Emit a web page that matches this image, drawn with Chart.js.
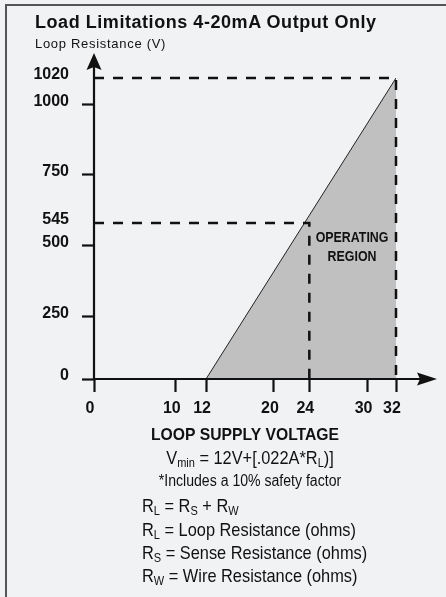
<!DOCTYPE html>
<html lang="en">
<head>
<meta charset="UTF-8" />
<title>Load Limitations 4-20mA Output Only</title>
<script src="https://cdn.jsdelivr.net/npm/chart.js"></script>
<style>
  html, body { margin: 0; padding: 0; }
  body { width: 446px; height: 597px; background: #f1f2f4; position: relative; overflow: hidden; color: #111; }
  .frame { position: absolute; left: 5px; top: 4px; right: 0; bottom: 0; border-top: 2px solid #555; border-left: 2px solid #555; }
  canvas { position: absolute; left: 0; top: 0; }
  .t { position: absolute; white-space: nowrap; line-height: 1; }
  .title { left: 35px; top: 12px; font: bold 18px "Liberation Sans", Arial, sans-serif; letter-spacing: 0.55px; }
  .sub { left: 35px; top: 36px; font: 13px "Liberation Sans", Arial, sans-serif; letter-spacing: 0.7px; }
  /* the notes use a condensed face in the original: squeeze Liberation Sans */
  .note { font-family: "Liberation Sans", Arial, sans-serif; font-size: 18.6px; transform: scaleX(0.88); transform-origin: 0 0; }
  .small { font-size: 16px; }
  .mid { left: 0; width: 500px; text-align: center; transform-origin: 250px 0; }
  .left { left: 142px; }
  sub { font-size: 12.5px; vertical-align: -3px; line-height: 0; }
</style>
</head>
<body>
  <div class="frame"></div>
  <canvas id="loadChart" width="446" height="460"></canvas>

  <div class="t title">Load Limitations 4-20mA Output Only</div>
  <div class="t sub">Loop Resistance (V)</div>

  <div class="t note mid" style="top:449px">V<sub>min</sub> = 12V+[.022A*R<sub>L</sub>)]</div>
  <div class="t note small mid" style="top:473px">*Includes a 10% safety factor</div>
  <div class="t note left" style="top:497px">R<sub>L</sub> = R<sub>S</sub> + R<sub>W</sub></div>
  <div class="t note left" style="top:521px">R<sub>L</sub> = Loop Resistance (ohms)</div>
  <div class="t note left" style="top:544px">R<sub>S</sub> = Sense Resistance (ohms)</div>
  <div class="t note left" style="top:567px">R<sub>W</sub> = Wire Resistance (ohms)</div>

  <script>
    // values
    const supplyTicks = [0, 10, 12, 20, 24, 30, 32];          // loop supply voltage
    const loadTicks = [0, 250, 500, 545, 750, 1000, 1020];    // loop resistance
    const minVolts = 12;
    const maxVolts = 32;
    const maxOhms = 1020;
    const checkVolts = 24;
    const checkOhms = 545;
    const unmarked = [545, 1020];   // labels without a tick mark

    // the original is not drawn to scale: where each tick sits along its axis (0..1)
    const xSpots = [0, 0.271, 0.371, 0.596, 0.713, 0.906, 1];
    const ySpots = [0, 0.207, 0.442, 0.518, 0.678, 0.912, 1];
    const bends = {
      x: { vals: supplyTicks, spots: xSpots },
      y: { vals: loadTicks, spots: ySpots }
    };

    function bend(v, vals, spots) {
      const n = vals.length - 1;
      if (v <= vals[0]) return spots[0];
      for (let i = 1; i <= n; i++) {
        if (v <= vals[i]) {
          const t = (v - vals[i - 1]) / (vals[i] - vals[i - 1]);
          return spots[i - 1] + t * (spots[i] - spots[i - 1]);
        }
      }
      return spots[n] + (v - vals[n]) / (vals[n] - vals[n - 1]) * (spots[n] - spots[n - 1]);
    }

    function unbend(d, vals, spots) {
      const n = spots.length - 1;
      for (let i = 1; i <= n; i++) {
        if (d <= spots[i] || i === n) {
          const t = (d - spots[i - 1]) / (spots[i] - spots[i - 1]);
          return vals[i - 1] + t * (vals[i] - vals[i - 1]);
        }
      }
    }

    // linear scale whose ticks sit where the drawing puts them
    class BentScale extends Chart.LinearScale {
      getPixelForValue(value) {
        const b = bends[this.id];
        return this.getPixelForDecimal(bend(value, b.vals, b.spots));
      }
      getValueForPixel(pixel) {
        const b = bends[this.id];
        return unbend(this.getDecimalForPixel(pixel), b.vals, b.spots);
      }
    }
    BentScale.id = 'bent';
    Chart.register(BentScale);

    const ink = '#111';
    const tickFont = { family: '"Liberation Sans", Arial, sans-serif', size: 16, weight: 'bold' };

    function arrowHead(ctx, tx, ty, dx, dy, len, half, notch) {
      const bx = tx - dx * len, by = ty - dy * len;
      const px = -dy, py = dx;
      ctx.beginPath();
      ctx.moveTo(tx, ty);
      ctx.lineTo(bx + px * half, by + py * half);
      ctx.lineTo(tx - dx * (len - notch), ty - dy * (len - notch));
      ctx.lineTo(bx - px * half, by - py * half);
      ctx.closePath();
      ctx.fill();
    }

    const axesAndLabel = {
      id: 'axesAndLabel',
      afterDatasetsDraw(chart) {
        const { ctx, chartArea: a, scales: { x, y } } = chart;
        const ox = x.getPixelForValue(0);
        const oy = y.getPixelForValue(0);
        ctx.save();
        ctx.strokeStyle = ink;
        ctx.fillStyle = ink;
        ctx.lineWidth = 2.2;
        ctx.beginPath();
        ctx.moveTo(ox, oy);
        ctx.lineTo(ox, a.top - 12);
        ctx.moveTo(ox, oy);
        ctx.lineTo(a.right + 25, oy);
        ctx.stroke();
        arrowHead(ctx, ox, a.top - 25, 0, -1, 17, 7.5, 3);
        arrowHead(ctx, a.right + 41, oy, 1, 0, 20, 6.5, 3);

        // label inside the shaded area, condensed like the original
        const cx = x.getPixelForValue(28.4);
        const cy = y.getPixelForValue(500);
        ctx.translate(cx, cy);
        ctx.scale(0.8, 1);
        ctx.font = 'bold 15.5px "Liberation Sans", Arial, sans-serif';
        ctx.textAlign = 'center';
        ctx.textBaseline = 'alphabetic';
        ctx.fillText('OPERATING', 0, -4);
        ctx.fillText('REGION', 0, 15);
        ctx.restore();
      }
    };

    new Chart(document.getElementById('loadChart'), {
      type: 'line',
      data: {
        datasets: [
          {
            label: 'Operating region',
            data: [{ x: minVolts, y: 0 }, { x: maxVolts, y: maxOhms }],
            borderColor: '#222',
            borderWidth: 1,
            backgroundColor: '#c0c0c0',
            fill: 'origin',
            pointRadius: 0,
            order: 3
          },
          {
            label: 'Max load',
            data: [{ x: 0, y: maxOhms }, { x: maxVolts, y: maxOhms }, { x: maxVolts, y: 0 }],
            borderColor: ink,
            borderWidth: 2.5,
            borderDash: [10, 9],
            fill: false,
            pointRadius: 0,
            clip: false,
            order: 1
          },
          {
            label: 'At 24 V',
            data: [{ x: 0, y: checkOhms }, { x: checkVolts, y: checkOhms }, { x: checkVolts, y: 0 }],
            borderColor: ink,
            borderWidth: 2.5,
            borderDash: [10, 9],
            fill: false,
            pointRadius: 0,
            clip: false,
            order: 2
          }
        ]
      },
      options: {
        responsive: false,
        animation: false,
        layout: { padding: { left: 0, top: 78, right: 50, bottom: 15 } },
        plugins: {
          legend: { display: false },
          tooltip: { enabled: false }
        },
        scales: {
          x: {
            type: 'bent',
            min: 0,
            max: maxVolts,
            afterBuildTicks: s => { s.ticks = supplyTicks.map(v => ({ value: v })); },
            afterFit: s => { s.height = 66; },
            border: { display: false },
            grid: { drawOnChartArea: false, tickLength: 13, tickWidth: 2.2, tickColor: ink },
            ticks: {
              autoSkip: false,
              maxRotation: 0,
              padding: 7,
              labelOffset: -4,
              color: ink,
              font: tickFont,
              callback: v => String(v)
            },
            title: {
              display: true,
              text: 'LOOP SUPPLY VOLTAGE',
              color: ink,
              padding: { top: 0, bottom: 0 },
              font: { family: '"Liberation Sans", Arial, sans-serif', size: 15.7, weight: 'bold' }
            }
          },
          y: {
            type: 'bent',
            min: 0,
            max: maxOhms,
            afterBuildTicks: s => { s.ticks = loadTicks.map(v => ({ value: v })); },
            afterFit: s => { s.width = 94; },
            border: { display: false },
            grid: {
              drawOnChartArea: false,
              tickLength: 12,
              tickWidth: 2.2,
              tickColor: c => unmarked.includes(c.tick.value) ? 'rgba(0,0,0,0)' : ink
            },
            ticks: {
              autoSkip: false,
              padding: 13,
              labelOffset: -3,
              color: ink,
              font: tickFont,
              callback: v => String(v)
            }
          }
        }
      },
      plugins: [axesAndLabel]
    });
  </script>
</body>
</html>
